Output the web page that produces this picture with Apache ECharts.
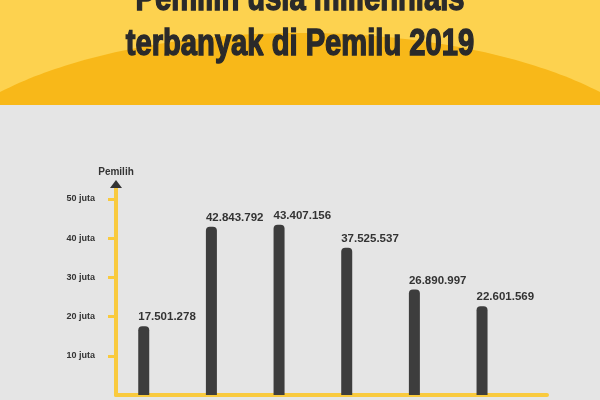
<!DOCTYPE html>
<html>
<head>
<meta charset="utf-8">
<script src="https://cdn.jsdelivr.net/npm/echarts@6/dist/echarts.min.js"></script>
<style>html,body{margin:0;padding:0;background:#e5e5e5;}#c{width:600px;height:400px;}</style>
</head>
<body>
<div id="c"></div>
<script>
const categories = ['Kelompok 1', 'Kelompok 2', 'Kelompok 3', 'Kelompok 4', 'Kelompok 5', 'Kelompok 6'];
const voters = [17501278, 42843792, 43407156, 37525537, 26890997, 22601569];
const tickValues = [10000000, 20000000, 30000000, 40000000, 50000000];
const tickLabels = ['10 juta', '20 juta', '30 juta', '40 juta', '50 juta'];
const titleLines = ['Pemilih usia millennials', 'terbanyak di Pemilu 2019'];
const axisName = 'Pemilih';

const yellow = '#F9CA3E';
const dark = '#3d3d3d';
const labelFont = '"Liberation Sans", Arial, sans-serif';

// decorative dome in the header (elliptical arc)
const domePts = [[0, 105]];
for (let x = 0; x <= 600; x += 5) {
  const d = (x - 300) / 380;
  domePts.push([x, 186 - 153 * Math.sqrt(1 - d * d)]);
}
domePts.push([600, 105]);

const chart = echarts.init(document.getElementById('c'));
chart.setOption({
  backgroundColor: '#e5e5e5',
  animation: false,
  graphic: [
    { type: 'rect', z: -10, shape: { x: 0, y: 0, width: 600, height: 105 }, style: { fill: '#FDD24F' } },
    { type: 'polygon', z: -9, shape: { points: domePts }, style: { fill: '#F8B819' } },
    { type: 'text', z: -8, x: 300, y: 23, scaleX: 0.81,
      style: { text: titleLines.join('\n'), fill: '#2a2a2a', stroke: '#2a2a2a', lineWidth: 1.4,
               font: 'bold 36px "Liberation Sans", Arial, sans-serif',
               lineHeight: 45, align: 'center', verticalAlign: 'middle' } },
    { type: 'polygon', z: 10, shape: { points: [[110, 188], [122, 188], [116, 180]] }, style: { fill: '#333333' } }
  ],
  grid: { left: 116, right: 53, top: 187, bottom: 5 },
  xAxis: {
    type: 'value', min: -0.41, max: 5.96,
    axisLine: { show: true, onZero: false, lineStyle: { color: yellow, width: 4 } },
    axisTick: { show: false }, axisLabel: { show: false }, splitLine: { show: false }
  },
  yAxis: {
    type: 'value', min: 0, max: 53000000, interval: 10000000,
    name: axisName, nameLocation: 'end', nameGap: 10,
    nameTextStyle: { color: '#333', fontWeight: 'bold', fontSize: 10, fontFamily: labelFont, align: 'center' },
    axisLine: { show: true, onZero: false, lineStyle: { color: yellow, width: 4 } },
    axisTick: { show: true, customValues: tickValues, length: 8, lineStyle: { color: yellow, width: 3 } },
    axisLabel: { customValues: tickValues, margin: 21, color: '#333', fontWeight: 'bold', fontSize: 9, fontFamily: labelFont,
      formatter: v => tickLabels[tickValues.indexOf(v)] },
    splitLine: { show: false }
  },
  series: [{
    type: 'bar', name: axisName, barWidth: 11,
    data: voters.map((v, i) => ({ name: categories[i], value: [i, v] })),
    itemStyle: { color: dark, borderRadius: [4, 4, 0, 0] },
    label: { show: true, position: 'top', distance: 3, align: 'left', offset: [-5.5, 0],
      color: '#333', fontWeight: 'bold', fontSize: 11.5, fontFamily: labelFont,
      formatter: p => voters[p.dataIndex].toLocaleString('de-DE') }
  }]
});
</script>
</body>
</html>
